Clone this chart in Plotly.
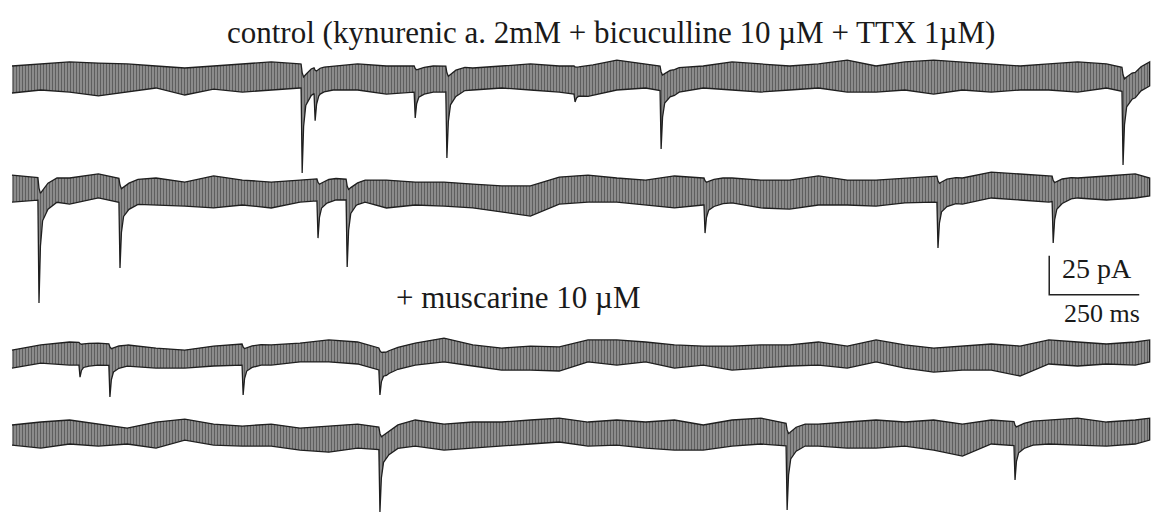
import numpy as np
import plotly.graph_objects as go

# ---------------- data (time in ms, current in pA relative to each trace baseline) -------------
grid_ms = [0, 80, 160, 240, 320, 400, 480, 560, 640, 720, 800, 880, 960, 1040, 1120, 1200,
           1280, 1360, 1440, 1520, 1600, 1680, 1760, 1840, 1920, 2000, 2080, 2160, 2240, 2320,
           2400, 2480, 2560, 2640, 2720, 2800, 2880, 2960, 3040, 3120, 3160]

# upper / lower envelope of the noisy baseline
ctrl1_hi = [7.7, 9.0, 10.3, 9.6, 9.0, 7.7, 6.4, 7.7, 9.0, 10.3, 9.0, 7.7, 9.0, 7.7, 7.7, 7.7, 6.4, 7.7,
            9.0, 7.7, 7.7, 11.5, 9.0, 6.4, 7.7, 10.3, 9.0, 7.7, 9.0, 11.5, 7.7, 10.3, 11.5, 10.3, 9.0,
            7.7, 9.0, 10.3, 9.0, 5.1, 10.3]
ctrl1_lo = [-9.6, -7.7, -9.0, -11.5, -9.0, -6.4, -10.9, -7.1, -9.0, -7.7, -6.4, -7.7, -7.7, -10.3, -9.0,
            -9.0, -7.7, -6.4, -7.7, -9.0, -11.5, -7.7, -6.4, -9.6, -6.4, -7.7, -9.0, -7.7, -6.4, -9.0,
            -9.0, -7.7, -10.3, -7.7, -9.0, -7.7, -7.7, -9.0, -6.4, -10.3, -5.1]
ctrl1_evt_ms = [806, 842, 1120, 1208, 1564, 1803, 3086]
ctrl1_evt_pA = [-60.9, -25.0, -25.6, -51.3, -15.4, -45.5, -55.8]

ctrl2_hi = [9.6, 7.7, 7.7, 10.3, 6.4, 7.7, 5.1, 9.0, 6.4, 5.1, 6.4, 7.7, 6.4, 6.4, 5.1, 5.1, 3.8, 2.6,
            2.6, 8.3, 9.6, 7.7, 6.4, 9.0, 7.7, 7.7, 6.4, 6.4, 9.0, 6.4, 6.4, 7.7, 9.0, 7.7, 11.5, 10.3,
            9.0, 7.7, 9.0, 10.3, 7.7]
ctrl2_lo = [-7.7, -6.4, -9.0, -5.1, -9.0, -9.6, -10.3, -11.5, -9.6, -11.5, -7.7, -6.4, -6.4, -11.5, -9.6,
            -10.3, -11.5, -14.1, -16.7, -9.0, -7.7, -7.7, -9.6, -11.5, -9.6, -8.3, -11.5, -12.2, -9.6,
            -9.6, -10.3, -8.3, -7.7, -9.0, -5.1, -6.4, -7.7, -5.1, -6.4, -5.1, -3.8]
ctrl2_evt_ms = [75, 300, 850, 931, 1925, 2572, 2892]
ctrl2_evt_pA = [-72.4, -50.0, -30.8, -49.4, -27.6, -37.2, -34.0]

musc1_hi = [3.8, 7.1, 9.0, 8.3, 7.1, 5.1, 3.8, 6.4, 7.7, 7.1, 8.3, 10.3, 9.0, 3.8, 8.3, 11.5, 7.1, 5.1,
            6.4, 5.8, 10.3, 10.3, 9.0, 7.1, 6.4, 6.4, 7.1, 7.1, 9.0, 6.4, 10.3, 7.1, 5.1, 6.4, 7.7, 6.4,
            10.3, 9.0, 7.7, 9.0, 10.3]
musc1_lo = [-7.7, -4.5, -5.8, -5.8, -6.4, -7.7, -7.7, -6.4, -5.8, -5.8, -3.8, -3.8, -5.1, -10.3, -5.8,
            -3.8, -6.4, -9.0, -9.0, -9.6, -3.8, -5.8, -3.8, -7.7, -5.8, -9.0, -7.7, -6.4, -5.8, -7.7,
            -3.8, -7.7, -10.3, -9.0, -9.0, -12.8, -5.1, -6.4, -5.1, -5.8, -3.8]
musc1_evt_ms = [189, 272, 642, 1022]
musc1_evt_pA = [-13.5, -26.3, -25.0, -25.0]

musc2_hi = [7.1, 9.0, 10.3, 7.7, 5.1, 9.0, 10.9, 7.7, 6.4, 7.7, 5.1, 6.4, 7.7, 5.1, 10.3, 7.7, 9.0, 9.0,
            10.3, 11.5, 9.0, 10.3, 9.0, 10.3, 7.1, 10.3, 11.5, 7.7, 7.7, 9.0, 10.3, 9.0, 10.3, 7.7,
            10.3, 9.0, 10.3, 11.5, 9.0, 10.3, 11.5]
musc2_lo = [-5.8, -7.7, -5.1, -6.4, -5.1, -7.7, -2.6, -5.8, -6.4, -6.4, -9.0, -10.3, -7.7, -9.0, -6.4,
            -9.0, -7.7, -6.4, -5.1, -3.8, -6.4, -5.8, -7.7, -9.0, -9.0, -6.4, -5.1, -6.4, -6.4, -7.7,
            -7.7, -6.4, -9.0, -12.8, -5.1, -6.4, -5.1, -5.8, -6.4, -5.1, -2.6]
musc2_evt_ms = [1022, 2153, 2786]
musc2_evt_pA = [-48.7, -47.4, -28.2]

title_text = "control (kynurenic a. 2mM + bicuculline 10 µM + TTX 1µM)"
musc_text = "+ muscarine 10 µM"
scale_pA = 25
scale_ms = 250

# ---------------- layout / style constants ----------------
offsets = [-50.0, -121.8, -228.2, -279.5]     # vertical stacking of the 4 sweeps (pA)
# event kinetics (relative time ms, fraction of amplitude) for lower and upper edges
kin_t = [-3, 0, 4, 10, 25, 50]
kin_lo = [0, 1, 0.45, 0.2, 0.08, 0]
kin_hi = [0, 0.1, 0.15, 0.12, 0.05, 0]

traces = [
    (ctrl1_hi, ctrl1_lo, ctrl1_evt_ms, ctrl1_evt_pA),
    (ctrl2_hi, ctrl2_lo, ctrl2_evt_ms, ctrl2_evt_pA),
    (musc1_hi, musc1_lo, musc1_evt_ms, musc1_evt_pA),
    (musc2_hi, musc2_lo, musc2_evt_ms, musc2_evt_pA),
]

fig = go.Figure()
g = np.array(grid_ms, float)
for (hi, lo, ev_t, ev_a), off in zip(traces, offsets):
    pts = set(grid_ms)
    for t in ev_t:
        for k in kin_t:
            pts.add(t + k)
    x = np.array(sorted(p for p in pts if g[0] <= p <= g[-1]), float)
    hi_b = np.interp(x, g, hi)
    lo_b = np.interp(x, g, lo)
    for t, a in zip(ev_t, ev_a):
        amp = a - np.interp(t, g, lo)
        lo_b = lo_b + amp * np.interp(x - t, kin_t, kin_lo, left=0, right=0)
        hi_b = hi_b + amp * np.interp(x - t, kin_t, kin_hi, left=0, right=0)
    px = np.concatenate([x, x[::-1]])
    py = np.concatenate([hi_b, lo_b[::-1]]) + off
    fig.add_trace(go.Scatter(
        x=px, y=py, mode="lines", fill="toself",
        line=dict(color="#1f1f1f", width=1.3),
        fillcolor="#8c8c8c",
        fillpattern=dict(shape="|", size=3, solidity=0.55, fgcolor="#1c1c1c", bgcolor="#a0a0a0"),
        hoverinfo="skip", showlegend=False))

# scale bar (data units)
sb_x0, sb_y0 = 2881, -189.0
fig.add_trace(go.Scatter(x=[sb_x0, sb_x0, sb_x0 + scale_ms], y=[sb_y0 + scale_pA, sb_y0, sb_y0],
                         mode="lines", line=dict(color="#222", width=1.5),
                         hoverinfo="skip", showlegend=False))

font = "Liberation Serif, Times New Roman, serif"
fig.add_annotation(text=title_text, x=0.5295, y=0.936, xref="paper", yref="paper",
                   showarrow=False, xanchor="center", yanchor="middle",
                   font=dict(family=font, size=31, color="#1a1a1a"))
fig.add_annotation(text=musc_text, x=0.449, y=0.4233, xref="paper", yref="paper",
                   showarrow=False, xanchor="center", yanchor="middle",
                   font=dict(family=font, size=31, color="#1a1a1a"))
fig.add_annotation(text=f"{scale_pA} pA", x=0.9185, y=0.4796, xref="paper", yref="paper",
                   showarrow=False, xanchor="left", yanchor="middle",
                   font=dict(family=font, size=28, color="#1a1a1a"))
fig.add_annotation(text=f"{scale_ms} ms", x=0.9203, y=0.392, xref="paper", yref="paper",
                   showarrow=False, xanchor="left", yanchor="middle",
                   font=dict(family=font, size=26, color="#1a1a1a"))

fig.update_layout(
    width=1154, height=515, margin=dict(l=0, r=0, t=0, b=0),
    paper_bgcolor="white", plot_bgcolor="white",
    xaxis=dict(range=[-33.3, 3172], visible=False, fixedrange=True),
    yaxis=dict(range=[-330.1, 0], visible=False, fixedrange=True),
)
fig.write_html("out.html")
